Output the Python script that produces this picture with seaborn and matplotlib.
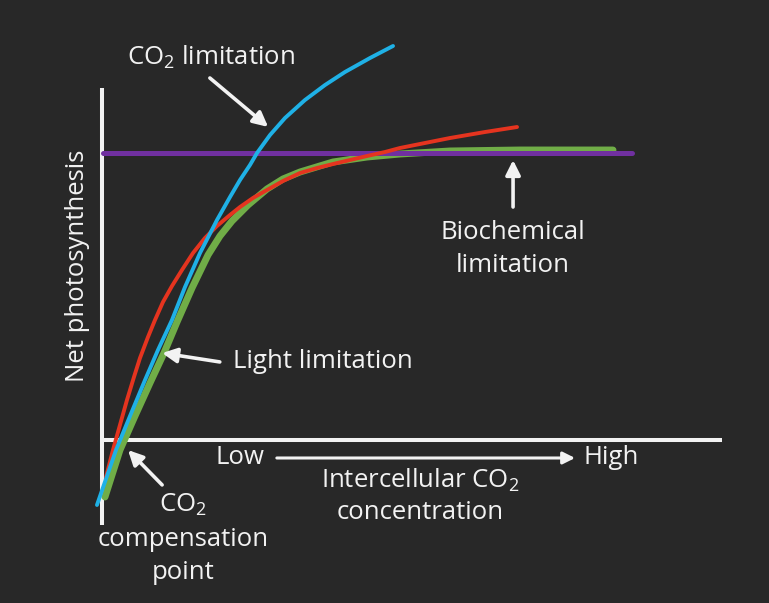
import numpy as np
import pandas as pd
import matplotlib
matplotlib.use("Agg")
import matplotlib.pyplot as plt
import seaborn as sns

# Data (arbitrary units: x = intercellular CO2, y = net photosynthesis)
co2_x = [-0.81, 2.26, 4.52, 6.94, 9.03, 11.29, 13.39, 15.81, 18.55, 20.65, 22.26,
         23.87, 25.0, 27.10, 29.52, 32.74, 35.97, 39.19, 43.23, 46.94]
co2_y = [-22.57, -3.47, 8.33, 20.83, 31.25, 41.67, 53.13, 64.93, 76.39, 84.38, 90.28,
         95.49, 99.65, 105.90, 111.81, 118.06, 123.26, 127.78, 132.64, 136.81]

light_x = [0.65, 1.77, 2.90, 4.03, 5.16, 6.13, 7.42, 8.55, 9.84, 11.29, 12.90, 14.68,
           16.61, 18.55, 20.65, 22.26, 24.35, 26.61, 29.19, 31.94, 34.68, 37.26, 40.0,
           42.74, 45.65, 48.06, 52.10, 56.13, 61.77, 66.94]
light_y = [-12.85, -3.47, 5.21, 13.89, 21.88, 28.47, 35.76, 41.67, 47.92, 53.47, 59.03,
           64.93, 70.14, 74.31, 78.13, 80.90, 84.03, 86.81, 89.93, 92.71, 94.44, 95.83,
           97.22, 98.61, 100.0, 101.39, 103.13, 104.86, 106.94, 108.68]

total_x = [0.48, 2.90, 5.32, 7.74, 10.0, 12.10, 14.52, 17.10, 19.03, 20.97, 23.55, 26.61,
           29.19, 31.94, 37.26, 42.74, 48.06, 56.13, 67.42, 82.42]
total_y = [-19.79, -3.47, 8.33, 19.79, 30.21, 40.97, 52.78, 64.24, 70.83, 76.04, 81.60,
           87.15, 90.63, 93.06, 96.53, 98.26, 99.31, 100.35, 100.69, 100.69]

biochem_x = [0.16, 85.5]
biochem_y = [99.65, 99.65]

BG = "#282828"
FG = "#f2f2f2"
sns.set_theme(style="dark", rc={"axes.facecolor": BG, "figure.facecolor": BG})
plt.rcParams["font.family"] = ["Open Sans", "DejaVu Sans"]
plt.rcParams["mathtext.fontset"] = "custom"
plt.rcParams["mathtext.rm"] = "Open Sans"
plt.rcParams["mathtext.it"] = "Open Sans"
plt.rcParams["mathtext.default"] = "regular"

fig = plt.figure(figsize=(7.69, 6.03), dpi=100)
ax = fig.add_axes([0, 0, 1, 1])
ax.set_xlim(-16.45, 107.58)
ax.set_ylim(-56.6, 152.78)
ax.axis("off")

# axes drawn as plain white lines
ax.plot([0, 0], [-29.5, 122.2], color=FG, lw=2.9, solid_capstyle="butt", zorder=2)
ax.plot([-0.3, 100], [0, 0], color=FG, lw=2.9, solid_capstyle="butt", zorder=2)

# curves
sns.lineplot(x=total_x, y=total_y, color="#70ad47", lw=5.0, sort=False, estimator=None, ax=ax, zorder=3)
sns.lineplot(x=biochem_x, y=biochem_y, color="#7030a0", lw=3.6, sort=False, estimator=None, ax=ax, zorder=4)
sns.lineplot(x=light_x, y=light_y, color="#e5341f", lw=2.8, sort=False, estimator=None, ax=ax, zorder=5)
sns.lineplot(x=co2_x, y=co2_y, color="#1fb1e6", lw=2.8, sort=False, estimator=None, ax=ax, zorder=6)
for line in ax.lines[2:]:
    line.set_solid_capstyle("round")
    line.set_solid_joinstyle("round")

txt = dict(color=FG, fontsize=18.5)
arrow = dict(arrowstyle="-|>", color=FG, lw=2.6, mutation_scale=22, shrinkA=0, shrinkB=0)

ax.text(17.6, 133.0, r"CO$_2$ limitation", ha="center", va="center", **txt)
ax.annotate("", xy=(26.8, 108.7), xytext=(17.4, 125.7), arrowprops=arrow)

ax.text(21.1, 27.1, "Light limitation", ha="left", va="center", **txt)
ax.annotate("", xy=(9.7, 30.2), xytext=(19.0, 27.1), arrowprops=arrow)

ax.text(66.3, 66.3, "Biochemical\nlimitation", ha="center", va="center", linespacing=1.38, **txt)
ax.annotate("", xy=(66.3, 97.2), xytext=(66.3, 80.9), arrowprops=arrow)

ax.text(22.3, -6.25, "Low", ha="center", va="center", **txt)
ax.text(77.6, -6.25, "High", ha="left", va="center", **txt)
ax.annotate("", xy=(76.3, -6.25), xytext=(28.2, -6.25),
            arrowprops=dict(arrowstyle="-|>", color=FG, lw=2.2, mutation_scale=18, shrinkA=0, shrinkB=0))

ax.text(51.3, -19.4, "Intercellular CO$_2$\nconcentration", ha="center", va="center", linespacing=1.3, **txt)

ax.text(13.1, -34.3, "CO$_2$\ncompensation\npoint", ha="center", va="center", linespacing=1.45, **txt)
ax.annotate("", xy=(4.2, -3.5), xytext=(9.7, -15.6), arrowprops=arrow)

ax.text(-3.9, 60.4, "Net photosynthesis", ha="center", va="center", rotation=90, **txt)

fig.savefig("out.png", dpi=100, facecolor=BG)
